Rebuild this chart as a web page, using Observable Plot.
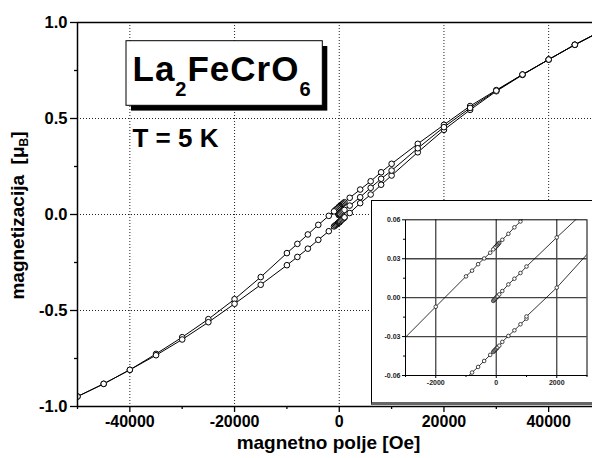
<!DOCTYPE html>
<html><head><meta charset="utf-8">
<script src="https://cdn.jsdelivr.net/npm/d3@7"></script>
<script src="https://cdn.jsdelivr.net/npm/@observablehq/plot@0.6"></script>
<style>
body{margin:0;background:#fff;}
#wrap{position:relative;width:592px;height:458px;overflow:hidden;font-family:"Liberation Sans",Arial,sans-serif;}
#inset{position:absolute;left:371px;top:200px;width:221px;height:205px;background:#fff;border-left:1px solid #000;border-top:1px solid #000;border-bottom:3px solid #666;box-sizing:border-box;}
#inset svg{display:block;}
</style></head><body><div id="wrap"><div id="inset"></div></div>
<script>
// descending branch (from +50 kOe to -50 kOe)
const fieldDesc = [50000,45000,40000,35000,30000,25000,20000,15000,10000,8000,6000,4000,2000,1000,800,600,400,200,100,75,50,25,0,-25,-50,-100,-200,-400,-600,-800,-1000,-2000,-4000,-6000,-8000,-10000,-15000,-20000,-25000,-30000,-35000,-40000,-45000,-50000];
const magDesc = [0.955,0.884,0.807,0.729,0.648,0.565,0.467,0.368,0.264,0.220,0.173,0.130,0.087,0.064,0.0587,0.0542,0.0492,0.0446,0.0422,0.0416,0.0408,0.0402,0.0396,0.0390,0.0384,0.0372,0.0346,0.0302,0.0258,0.0208,0.0164,-0.0070,-0.054,-0.104,-0.153,-0.201,-0.326,-0.441,-0.545,-0.639,-0.726,-0.809,-0.882,-0.948];
// ascending branch (from -50 kOe to +50 kOe)
const fieldAsc = [-50000,-45000,-40000,-35000,-30000,-25000,-20000,-15000,-10000,-8000,-6000,-4000,-2000,-1000,-800,-600,-400,-200,-100,-75,-50,-25,0,25,50,100,200,400,600,800,1000,1000,2000,4000,6000,8000,10000,15000,20000,25000,30000,35000,40000,45000,50000];
const magAsc = [-0.948,-0.882,-0.809,-0.733,-0.651,-0.561,-0.465,-0.366,-0.264,-0.221,-0.178,-0.132,-0.087,-0.062,-0.0577,-0.0534,-0.0488,-0.0441,-0.0418,-0.0412,-0.0405,-0.0400,-0.0394,-0.0388,-0.0382,-0.0370,-0.0341,-0.0295,-0.0252,-0.0205,-0.0162,-0.0145,0.0077,0.059,0.104,0.155,0.203,0.324,0.441,0.545,0.642,0.727,0.807,0.884,0.955];
// virgin curve
const fieldVirgin = [-100,-75,-50,-25,0,25,50,100,200,400,600,800,1000,2000,4000,6000,8000,10000,15000,20000,25000,30000,35000,40000,45000,50000];
const magVirgin = [-0.0025,-0.0019,-0.0012,-0.0006,0.0,0.0006,0.0012,0.0025,0.0051,0.0102,0.0146,0.019,0.024,0.0464,0.090,0.139,0.186,0.229,0.345,0.455,0.555,0.645,0.729,0.807,0.884,0.955];

const xMajor = [-40000,-20000,0,20000,40000];
const xMinor = [-50000,-30000,-10000,10000,30000];
const yMajor = [-1,-0.5,0,0.5,1];
const yMinor = [-0.75,-0.25,0.25,0.75];
const xGrid = [-40000,-20000,0,20000,40000];
const yGrid = [-0.5,0,0.5];
const insetXTicks = [-2000,0,2000];
const insetXMinor = [-3000,-1000,1000,3000];
const insetYTicks = [-0.06,-0.03,0,0.03,0.06];
const insetYMinor = [-0.045,-0.015,0.015,0.045];

const rows = [];
fieldDesc.forEach((h,i)=>rows.push({H:h,M:magDesc[i],branch:"desc"}));
fieldAsc.forEach((h,i)=>rows.push({H:h,M:magAsc[i],branch:"asc"}));
fieldVirgin.forEach((h,i)=>rows.push({H:h,M:magVirgin[i],branch:"virgin"}));

const FONT = "'Liberation Sans', Arial, sans-serif";

const main = Plot.plot({
  width:592, height:458,
  marginLeft:77, marginRight:0, marginTop:22, marginBottom:52,
  x:{domain:[-50000,48376]},
  y:{domain:[-1,1]},
  style:{fontFamily:FONT, background:"#fff", color:"#000"},
  marks:[
    Plot.gridX(xGrid,{stroke:"#222",strokeOpacity:1,strokeDasharray:"1,2",strokeWidth:1}),
    Plot.gridY(yGrid,{stroke:"#222",strokeOpacity:1,strokeDasharray:"1,2",strokeWidth:1}),
    Plot.line(rows,{x:"H",y:"M",z:"branch",stroke:"#000",strokeWidth:1,clip:true}),
    Plot.dot(rows,{x:"H",y:"M",r:2.8,stroke:"#000",fill:"#fff",strokeWidth:1,clip:true}),
    Plot.ruleX([-50000],{stroke:"#000",strokeWidth:1.5}),
    Plot.ruleY([-1],{stroke:"#000",strokeWidth:1.5}),
    Plot.ruleY([1],{stroke:"#000",strokeWidth:1.3}),
    Plot.axisX(xMajor,{tickSize:6,tickPadding:3,fontSize:16,fontWeight:"bold",tickFormat:d=>String(d),label:null,strokeWidth:1.3}),
    Plot.axisX(xMinor,{tickSize:3,tickFormat:()=>"",label:null,strokeWidth:1.3}),
    Plot.axisY(yMajor,{tickSize:7,tickPadding:3,fontSize:16.5,fontWeight:"bold",tickFormat:d=>d.toFixed(1),label:null,strokeWidth:1.3}),
    Plot.axisY(yMinor,{tickSize:3,tickFormat:()=>"",label:null,strokeWidth:1.3})
  ]
});

const svg = d3.select(main);
const g = svg.append("g").attr("font-family",FONT).attr("font-weight","bold").attr("fill","#000").attr("text-anchor","start");
// compound label box with shadow
g.append("rect").attr("x",131).attr("y",46).attr("width",196.3).attr("height",64.6).attr("fill","#000");
g.append("rect").attr("x",126).attr("y",40.7).attr("width",196.3).attr("height",64.6).attr("fill","#fff").attr("stroke","#000").attr("stroke-width",1);
const t = g.append("text").attr("x",132.5).attr("y",81.3).attr("font-size",35).attr("letter-spacing",1).attr("text-anchor","start");
t.append("tspan").text("La");
t.append("tspan").attr("dy",15).attr("font-size",20).text("2");
t.append("tspan").attr("dy",-15).text("FeCrO");
t.append("tspan").attr("dy",15).attr("font-size",20).text("6");
g.append("text").attr("x",132.5).attr("y",146.5).attr("font-size",26).attr("text-anchor","start").text("T = 5 K");
// axis titles
g.append("text").attr("x",328.5).attr("y",449).attr("text-anchor","middle").attr("font-size",19).text("magnetno polje [Oe]");
const yl = g.append("text").attr("transform","translate(24,215.5) rotate(-90)").attr("text-anchor","middle").attr("font-size",19);
yl.append("tspan").text("magnetizacija\u00a0\u00a0[\u03bc");
yl.append("tspan").attr("dy",4).attr("font-size",12).text("B");
yl.append("tspan").attr("dy",-4).text("]");

document.getElementById("wrap").prepend(main);

const inset = Plot.plot({
  width:220, height:201,
  marginLeft:33, marginRight:5.5, marginTop:18.3, marginBottom:27,
  x:{domain:[-3000,3000]},
  y:{domain:[-0.06,0.06]},
  style:{fontFamily:FONT, background:"#fff", color:"#000"},
  marks:[
    Plot.gridX(insetXTicks,{stroke:"#444",strokeOpacity:1,strokeWidth:1.3}),
    Plot.gridY([-0.03,0,0.03],{stroke:"#444",strokeOpacity:1,strokeWidth:1.3}),
    Plot.line(rows,{x:"H",y:"M",z:"branch",stroke:"#000",strokeWidth:0.8,clip:true}),
    Plot.dot(rows,{x:"H",y:"M",r:1.8,stroke:"#000",fill:"#fff",strokeWidth:0.7,clip:true}),
    Plot.frame({stroke:"#000",strokeWidth:1}),
    Plot.axisX(insetXTicks,{tickSize:3,tickPadding:2,fontSize:7,fontWeight:"bold",fill:"#222",tickFormat:d=>String(d),label:null}),
    Plot.axisX(insetXMinor,{tickSize:2,tickFormat:()=>"",label:null}),
    Plot.axisY(insetYTicks,{tickSize:3,tickPadding:2,fontSize:7,fontWeight:"bold",fill:"#222",tickFormat:d=>d.toFixed(2),label:null}),
    Plot.axisY(insetYMinor,{tickSize:2,tickFormat:()=>"",label:null})
  ]
});
document.getElementById("inset").appendChild(inset);
</script>
</body></html>
